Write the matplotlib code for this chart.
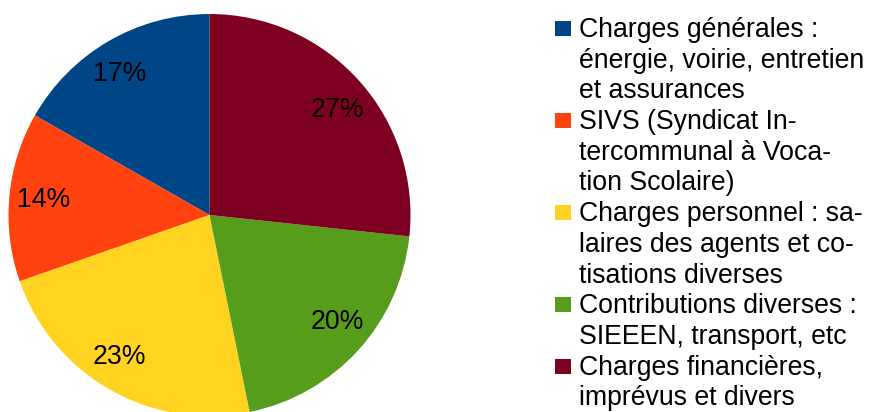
import matplotlib
matplotlib.use("Agg")
import matplotlib.pyplot as plt
from matplotlib.patches import Rectangle

plt.rcParams['font.family'] = ['Liberation Sans', 'DejaVu Sans']

categories = [
    "Charges générales :\nénergie, voirie, entretien\net assurances",
    "SIVS (Syndicat In-\ntercommunal à Voca-\ntion Scolaire)",
    "Charges personnel : sa-\nlaires des agents et co-\ntisations diverses",
    "Contributions diverses :\nSIEEEN, transport, etc",
    "Charges financières,\nimprévus et divers",
]
values = [16.75, 13.6, 22.85, 20.1, 26.7]
colors = ["#004586", "#ff420e", "#ffd320", "#579d1c", "#7e0021"]

# small styling nudges (pixels) for the percentage labels, LibreOffice-like placement
label_nudge_px = [(-6.5, -3), (0, 0), (-8, 3), (4, 5), (4, -6.5)]

W, H = 871, 412
fig = plt.figure(figsize=(W / 100, H / 100), dpi=100)
fs = 19.2

cx, cy, r = 209.5, 412 - 215, 201
ax = fig.add_axes([(cx - r) / W, (cy - r) / H, 2 * r / W, 2 * r / H])
wedges, texts, autotexts = ax.pie(
    values, colors=colors, startangle=90, counterclock=True,
    autopct="%.0f%%", pctdistance=0.83,
    wedgeprops=dict(linewidth=0),
    textprops=dict(fontsize=fs, color="black"),
)
ax.set_xlim(-1, 1)
ax.set_ylim(-1, 1)
ax.set_aspect("equal")
ax.axis("off")
for t, (dx, dy) in zip(autotexts, label_nudge_px):
    x, y = t.get_position()
    t.set_position((x + dx / r, y + dy / r))

# legend
line_h = 30.7
base0 = 37
sq_x, sq_w, sq_h = 555, 16, 15
tx = 579
k = 0
for lab, col in zip(categories, colors):
    lines = lab.split("\n")
    b = base0 + k * line_h
    fig.patches.append(Rectangle((sq_x / W, (H - b + 1) / H), sq_w / W, sq_h / H,
                                 transform=fig.transFigure, facecolor=col,
                                 edgecolor="none"))
    for ln in lines:
        b = base0 + k * line_h
        fig.text(tx / W, (H - b) / H, ln, fontsize=fs, va="baseline", ha="left",
                 color="black")
        k += 1

fig.savefig("out.png", dpi=100)
